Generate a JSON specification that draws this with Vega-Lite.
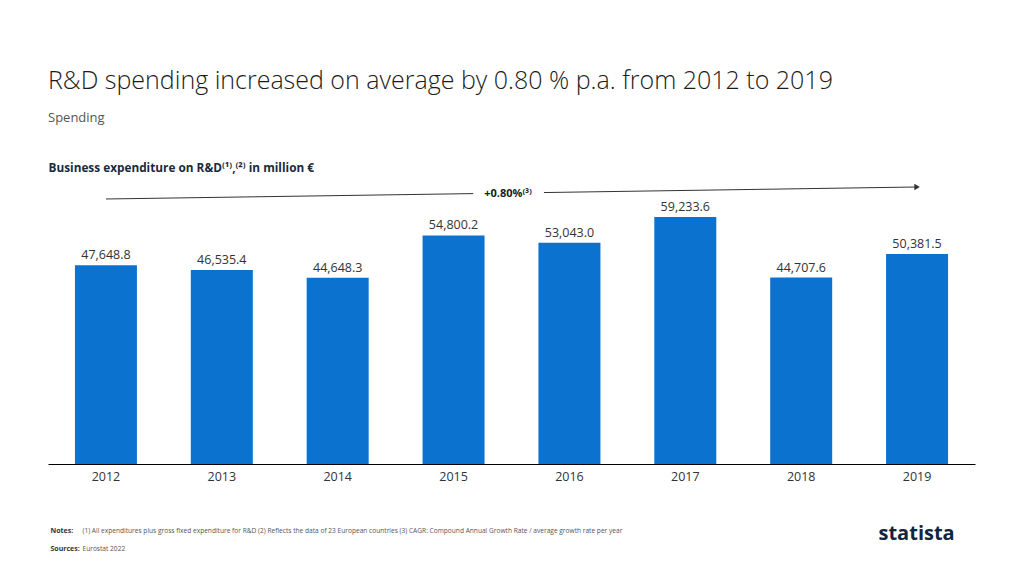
{
  "$schema": "https://vega.github.io/schema/vega-lite/v6.json",
  "width": 927,
  "height": 284,
  "autosize": {"type": "none"},
  "padding": {"left": 48, "top": 180, "right": 49, "bottom": 112},
  "background": "white",
  "title": {
    "text": "R&D spending increased on average by 0.80 % p.a. from 2012 to 2019",
    "subtitle": "Spending",
    "anchor": "start",
    "frame": "group",
    "offset": 37,
    "fontSize": 25,
    "fontWeight": 300,
    "color": "#1b1b1b",
    "subtitleFontSize": 13,
    "subtitleColor": "#555555",
    "subtitlePadding": 18
  },
  "config": {
    "font": "Open Sans",
    "view": {"stroke": null},
    "axis": {"grid": false}
  },
  "datasets": {
    "bars": [
      {"year": "2012", "value": 47648.8},
      {"year": "2013", "value": 46535.4},
      {"year": "2014", "value": 44648.3},
      {"year": "2015", "value": 54800.2},
      {"year": "2016", "value": 53043.0},
      {"year": "2017", "value": 59233.6},
      {"year": "2018", "value": 44707.6},
      {"year": "2019", "value": 50381.5}
    ],
    "arrow": [
      {"yr": 2012, "v": 63545, "seg": "a"},
      {"yr": 2015.17, "v": 64840, "seg": "a"},
      {"yr": 2015.78, "v": 65090, "seg": "b"},
      {"yr": 2019, "v": 66422, "seg": "b"}
    ],
    "tip": [
      {"yr": 2019, "v": 66422}
    ],
    "label": [
      {"yr": 2015.47, "v": 64700, "txt": "+0.80%⁽³⁾"}
    ]
  },
  "layer": [
    {
      "data": {"name": "bars"},
      "encoding": {
        "x": {
          "field": "year",
          "type": "ordinal",
          "scale": {"paddingInner": 0.465, "paddingOuter": 0.2325},
          "axis": {
            "orient": "bottom",
            "labelAngle": 0,
            "labelFontSize": 12.5,
            "labelColor": "#333333",
            "labelPadding": 6,
            "ticks": false,
            "domainColor": "#000000",
            "domainWidth": 1,
            "title": ["Notes:", "Sources:"],
            "titleFontSize": 7,
            "titleFontWeight": "bold",
            "titleColor": "#333333",
            "titleX": 2,
            "titleY": 66,
            "titleAlign": "left",
            "titleBaseline": "middle",
            "titleLineHeight": 18
          }
        },
        "y": {
          "field": "value",
          "type": "quantitative",
          "scale": {"domain": [0, 68100], "nice": false},
          "axis": {
            "orient": "left",
            "labels": false,
            "ticks": false,
            "domain": false,
            "title": "Business expenditure on R&D⁽¹⁾,⁽²⁾ in million €",
            "titleAngle": 0,
            "titleX": 0,
            "titleY": -13,
            "titleAlign": "left",
            "titleBaseline": "middle",
            "titleFontSize": 11.8,
            "titleFontWeight": "bold",
            "titleColor": "#1a2a40"
          }
        }
      },
      "layer": [
        {"mark": {"type": "bar", "color": "#0b72d0"}},
        {
          "mark": {"type": "text", "dy": -10, "fontSize": 12.5, "color": "#333333", "baseline": "middle"},
          "encoding": {"text": {"field": "value", "type": "quantitative", "format": ",.1f"}}
        }
      ]
    },
    {
      "encoding": {
        "x": {
          "field": "yr",
          "type": "quantitative",
          "scale": {"domain": [2011.5, 2019.5], "nice": false, "zero": false},
          "axis": {
            "orient": "top",
            "labels": false,
            "ticks": false,
            "domain": false,
            "title": ["(1) All expenditures plus gross fixed expenditure for R&D (2) Reflects the data of 23 European countries (3) CAGR: Compound Annual Growth Rate / average growth rate per year", "Eurostat 2022"],
            "titleFontSize": 6.6,
            "titleFontWeight": "normal",
            "titleColor": "#555555",
            "titleX": 34,
            "titleY": 350,
            "titleAlign": "left",
            "titleBaseline": "middle",
            "titleLineHeight": 18
          }
        },
        "y": {
          "field": "v",
          "type": "quantitative",
          "scale": {"domain": [0, 68100], "nice": false},
          "axis": {
            "orient": "right",
            "labels": false,
            "ticks": false,
            "domain": false,
            "title": "statista",
            "titleAngle": 0,
            "titleX": -97,
            "titleY": 353,
            "titleAlign": "left",
            "titleBaseline": "middle",
            "titleFontSize": 20,
            "titleFontWeight": "bold",
            "titleColor": "#0f2540"
          }
        }
      },
      "layer": [
        {
          "data": {"name": "arrow"},
          "mark": {"type": "line", "color": "#333333", "strokeWidth": 1},
          "encoding": {"detail": {"field": "seg"}}
        },
        {
          "data": {"name": "tip"},
          "mark": {"type": "point", "shape": "triangle-right", "filled": true, "color": "#333333", "size": 40, "opacity": 1}
        },
        {
          "data": {"name": "label"},
          "mark": {"type": "text", "fontSize": 11, "fontWeight": "bold", "color": "#1a1a1a", "baseline": "middle"},
          "encoding": {"text": {"field": "txt"}}
        }
      ]
    }
  ],
  "resolve": {"scale": {"x": "independent", "y": "independent"}, "axis": {"x": "independent", "y": "independent"}}
}
